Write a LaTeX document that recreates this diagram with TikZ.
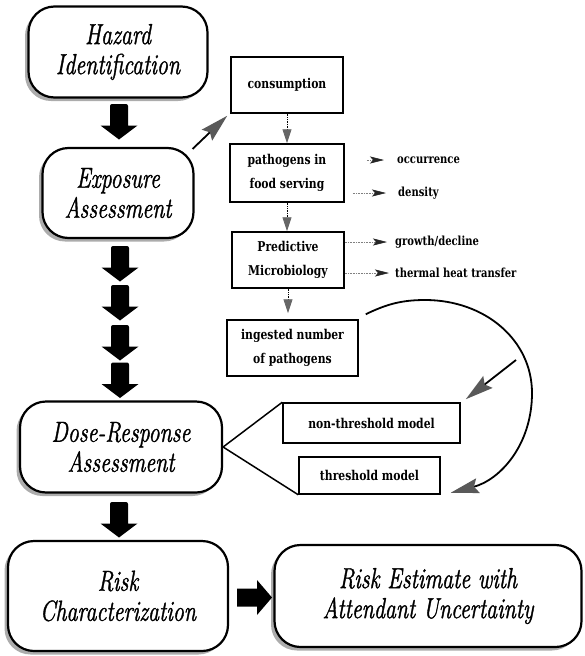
\documentclass[tikz,border=0pt]{standalone}
\usepackage{fontspec}
\newfontfamily\calf{Latin Modern Roman}[FakeStretch=0.76,FakeBold=1.2]
\newfontfamily\slab{DejaVu Serif}[FakeStretch=0.8]
\usetikzlibrary{arrows.meta,shadows}
\begin{document}
\begin{tikzpicture}[x=1pt,y=-1pt,
  bigbox/.style={draw, line width=2.2pt, rounded corners=26pt, fill=white, align=center,
    font=\calf\itshape\fontsize{29}{30}\selectfont, inner sep=0pt,
    drop shadow={shadow xshift=-3.5pt, shadow yshift=-3.5pt, fill=gray!65, opacity=1}},
  smallbox/.style={draw, line width=1.5pt, align=center, inner sep=0pt,
    font=\slab\bfseries\fontsize{13.5}{24}\selectfont},
  sidelabel/.style={anchor=west, inner sep=0pt, font=\slab\bfseries\fontsize{12.5}{14}\selectfont},
  sidearr/.style={densely dotted, gray, line width=0.6pt,
    -{Stealth[length=14pt,width=7pt,inset=3pt,color=black!85]}},
  vsmall/.style={densely dotted, line width=0.7pt,
    -{Triangle[length=14pt,width=9pt,color=black!60]}},
  bigtip/.style={line width=1.8pt, -{Stealth[length=28pt,width=15pt,inset=4pt,color=black!65]}},
  bdown/.pic={\fill[black] (-9,4) -- (-9,-15) [rounded corners=2pt]-- (-9,-17.5) -- (9,-17.5) [sharp corners]-- (9,4) -- (18.5,4) -- (0,18) -- (-18.5,4) -- cycle;},
  bright/.pic={\fill[black] (-17.5,-9) -- (2.5,-9) -- (2.5,-17.5) -- (17.5,0) -- (2.5,17.5) -- (2.5,9) -- (-17.5,9) -- cycle;}
]
\useasboundingbox (0,0) rectangle (584,656);

% main stages
\node[bigbox, minimum width=179pt, minimum height=91pt] (haz) at (118,52) {Hazard\\Identification};
\node[bigbox, minimum width=151pt, minimum height=90pt] (exp) at (118,193) {Exposure\\Assessment};
\node[bigbox, minimum width=202pt, minimum height=91pt] (dose) at (121,447) {Dose-Response\\Assessment};
\node[bigbox, minimum width=220pt, minimum height=110pt] (riskc) at (118,596) {Risk\\Characterization};
\node[bigbox, minimum width=307pt, minimum height=102pt] (riske) at (428,596) {Risk Estimate with\\Attendant Uncertainty};

% block arrows
\coordinate (a1) at (119,121.5);
\coordinate (a2) at (120,263.5);
\coordinate (a3) at (120,302.5);
\coordinate (a4) at (120,342.5);
\coordinate (a5) at (120,380);
\coordinate (a6) at (119,519.5);
\coordinate (a7) at (254.5,597.5);
\pic at (a1) {bdown};
\pic at (a2) {bdown};
\pic at (a3) {bdown};
\pic at (a4) {bdown};
\pic at (a5) {bdown};
\pic at (a6) {bdown};
\pic at (a7) {bright};

% exposure details
\node[smallbox, minimum width=112pt, minimum height=56pt] (cons) at (287,85) {consumption};
\node[smallbox, minimum width=114pt, minimum height=58pt] (pb) at (287,173) {pathogens in\\food serving};
\node[smallbox, minimum width=112pt, minimum height=56pt] (pm) at (288,260) {Predictive\\Microbiology};
\node[smallbox, minimum width=131pt, minimum height=56pt] (ing) at (292.5,348) {ingested number\\of pathogens};
\node[smallbox, minimum width=177pt, minimum height=40pt] (nt) at (371.5,423) {non-threshold model};
\node[smallbox, minimum width=141pt, minimum height=37pt] (thr) at (369.5,475.5) {threshold model};

\draw[vsmall] (cons.south) -- (pb.north);
\draw[vsmall] (pb.south) -- (pb.south |- pm.north);
\draw[vsmall, shorten >=6pt] (pm.south) -- (pm.south |- ing.north);

% side labels
\node[sidelabel] (occ) at (397,160) {occurrence};
\node[sidelabel] (dens) at (398,193) {density};
\node[sidelabel] (grow) at (395,242) {growth/decline};
\node[sidelabel] (therm) at (395,273) {thermal heat transfer};
\draw[sidearr, shorten <=22pt] (pb.east |- occ.west) -- ([xshift=-13pt]occ.west);
\draw[sidearr, shorten <=8pt] (pb.east |- dens.west) -- ([xshift=-12pt]dens.west);
\draw[sidearr] (pm.east |- grow.west) -- ([xshift=-8pt]grow.west);
\draw[sidearr] (pm.east |- therm.west) -- ([xshift=-6pt]therm.west);

% exposure -> consumption
\draw[bigtip] ([shift={(-2pt,-2pt)}]exp.north east) -- ([shift={(-3pt,-2pt)}]cons.south west);

% dose-response branches
\draw[line width=1.5pt] (nt.north west) -- (dose.east) -- (thr.south west);

% curved arrow
\draw[bigtip] ([shift={(7pt,5pt)}]ing.north east) .. controls (385,305) and (400,300) .. (425,300)
  .. controls (485,300) and (532,340) .. (532,393)
  .. controls (532,445) and (500,480) .. ([shift={(10pt,2pt)}]thr.south east);
\coordinate (c1) at (516,360);
\draw[bigtip] (c1) -- ([shift={(5pt,3pt)}]nt.north east);
\end{tikzpicture}
\end{document}
